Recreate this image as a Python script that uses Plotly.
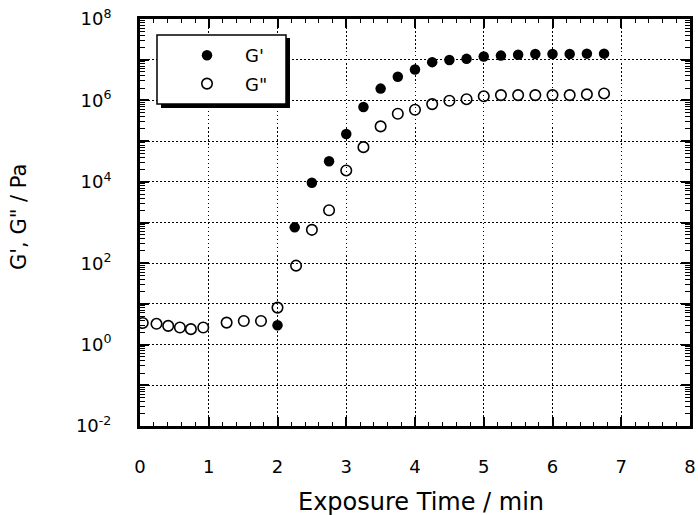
import numpy as np
import plotly.graph_objects as go

# ---- data ----
t_gp = [2.0, 2.25, 2.5, 2.75, 3.0, 3.25, 3.5, 3.75, 4.0, 4.25, 4.5, 4.75,
        5.0, 5.25, 5.5, 5.75, 6.0, 6.25, 6.5, 6.75]
g_prime = [3.0, 760, 9500, 3.2e4, 1.5e5, 6.9e5, 1.95e6, 3.8e6, 5.75e6, 8.7e6,
           9.8e6, 1.05e7, 1.2e7, 1.26e7, 1.32e7, 1.38e7, 1.38e7, 1.38e7, 1.41e7, 1.41e7]

t_gpp = [0.04, 0.24, 0.41, 0.58, 0.74, 0.92, 1.26, 1.51, 1.76, 2.0, 2.27, 2.5,
         2.75, 3.0, 3.25, 3.5, 3.75, 4.0, 4.25, 4.5, 4.75, 5.0, 5.25, 5.5, 5.75,
         6.0, 6.25, 6.5, 6.75]
g_dprime = [3.4, 3.24, 2.88, 2.63, 2.4, 2.63, 3.47, 3.8, 3.8, 8.1, 87, 660,
            2000, 1.9e4, 7.1e4, 2.3e5, 4.7e5, 5.9e5, 8.1e5, 9.8e5, 1.07e6,
            1.26e6, 1.35e6, 1.35e6, 1.35e6, 1.35e6, 1.35e6, 1.41e6, 1.48e6]

x_ticks = [0, 1, 2, 3, 4, 5, 6, 7, 8]
y_label_exps = [-2, 0, 2, 4, 6, 8]
y_ticktext = ["10<sup>%d</sup>" % e for e in y_label_exps]
y_odd_exps = [-1, 1, 3, 5, 7]
legend_names = ["G'", "G\""]
x_title = "Exposure Time / min"
y_title = "G', G\" / Pa"

FONT = "DejaVu Sans, Liberation Sans, Arial, sans-serif"

fig = go.Figure()
fig.add_trace(go.Scatter(x=t_gp, y=g_prime, mode="markers", name=legend_names[0],
                         legendgroup="a",
                         marker=dict(symbol="circle", size=10.5, color="black")))
fig.add_trace(go.Scatter(x=t_gpp, y=g_dprime, mode="markers", name=legend_names[1],
                         legendgroup="b",
                         marker=dict(symbol="circle-open", size=10.5, color="black",
                                     line=dict(width=1.6, color="black"))))
# empty helper traces so that the overlay (tick-only) axes are drawn
fig.add_trace(go.Scatter(x=[], y=[], xaxis="x2", yaxis="y2", showlegend=False,
                         hoverinfo="skip"))
fig.add_trace(go.Scatter(x=[], y=[], xaxis="x", yaxis="y3", showlegend=False,
                         hoverinfo="skip"))

y_minor = [m * 10.0 ** e for e in range(-2, 8) for m in range(2, 10)]
x_minor = [v for v in np.arange(0, 8.001, 0.2) if abs(v - round(v)) > 1e-6]

GRID_DASH = "1.5px,2.5px"
tick_common = dict(ticks="inside", tickcolor="black", zeroline=False,
                   mirror="ticks", automargin=False)

fig.update_layout(
    xaxis=dict(range=[0, 8], tickvals=x_ticks, ticklen=9, tickwidth=1.5,
               showline=True, linewidth=3, linecolor="black",
               showgrid=True, gridcolor="black", griddash=GRID_DASH, gridwidth=1.2,
               ticklabelstandoff=22, anchor="y",
               tickfont=dict(family=FONT, size=18, color="black"),
               **tick_common),
    xaxis2=dict(range=[0, 8], tickvals=x_minor, ticklen=4, tickwidth=1.2,
                overlaying="x", side="bottom", anchor="y", showticklabels=False,
                showgrid=False, showline=False, **tick_common),
    yaxis=dict(type="log", range=[-2, 8],
               tickvals=[10.0 ** e for e in y_label_exps], ticktext=y_ticktext,
               ticklen=9, tickwidth=1.5,
               showline=True, linewidth=3, linecolor="black",
               showgrid=True, gridcolor="black", griddash=GRID_DASH, gridwidth=1.2,
               ticklabelstandoff=22, anchor="x",
               tickfont=dict(family=FONT, size=18, color="black"),
               **tick_common),
    yaxis2=dict(type="log", range=[-2, 8],
                tickvals=[10.0 ** e for e in y_odd_exps], ticklen=9, tickwidth=1.5,
                overlaying="y", side="left", anchor="x", showticklabels=False,
                showgrid=True, gridcolor="black", griddash=GRID_DASH, gridwidth=1.2,
                showline=False, **tick_common),
    yaxis3=dict(type="log", range=[-2, 8], tickvals=y_minor, ticklen=5,
                tickwidth=1.2, overlaying="y", side="left", anchor="x",
                showticklabels=False, showgrid=False, showline=False,
                **tick_common),
)

# pixel layout converted to paper coordinates
L, R, T, B = 140, 690, 19, 426
W, H = R - L, B - T
def px(x): return (x - L) / W
def py(y): return 1 - (y - T) / H

# axis titles
fig.add_annotation(text=x_title, xref="paper", yref="paper", x=px(421), y=py(502),
                   showarrow=False, xanchor="center", yanchor="middle",
                   font=dict(family=FONT, size=24, color="black"))
fig.add_annotation(text=y_title, xref="paper", yref="paper", x=px(19), y=py(217),
                   showarrow=False, xanchor="center", yanchor="middle", textangle=-90,
                   font=dict(family=FONT, size=21, color="black"))

# legend frame with shadow
fig.add_shape(type="rect", xref="paper", yref="paper",
              x0=px(161), x1=px(290), y0=py(108), y1=py(38),
              fillcolor="black", line=dict(width=0), layer="above")
fig.add_shape(type="rect", xref="paper", yref="paper",
              x0=px(157), x1=px(286), y0=py(104), y1=py(35),
              fillcolor="white", line=dict(width=1.5, color="black"), layer="above")

fig.update_layout(
    width=698, height=515,
    margin=dict(l=L, r=698 - R, t=T, b=515 - B, autoexpand=False),
    paper_bgcolor="white", plot_bgcolor="white",
    showlegend=True,
    legend=dict(x=px(169), y=py(37), xanchor="left", yanchor="top",
                bgcolor="rgba(0,0,0,0)", borderwidth=0, itemwidth=66,
                font=dict(family=FONT, size=18, color="black"),
                tracegroupgap=2),
)

fig.write_html("out.html")
